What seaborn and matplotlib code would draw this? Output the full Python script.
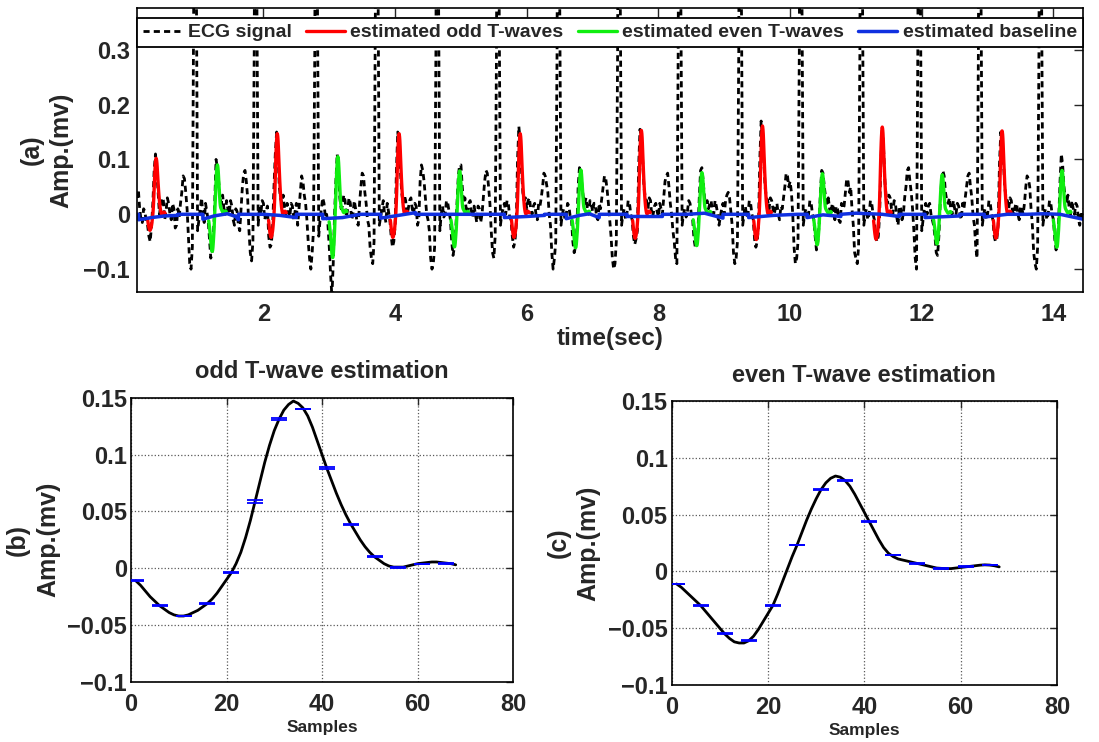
import numpy as np
import pandas as pd
import matplotlib
matplotlib.use("Agg")
import matplotlib.pyplot as plt
from matplotlib.lines import Line2D
from matplotlib.ticker import FuncFormatter
import seaborn as sns

sns.set_style("white")
plt.rcParams["font.family"] = ["Liberation Sans", "DejaVu Sans"]
plt.rcParams["font.weight"] = "bold"
plt.rcParams["axes.labelweight"] = "bold"
plt.rcParams["axes.titleweight"] = "bold"

# --- ECG recording (a), 50 Hz from 0.08 s ---
# ecg_a: samples at 0.08, 0.12, 0.16 ... ; ecg_b: samples in between (0.10, 0.14, ...)
ecg_t0 = 0.08
ecg_dt = 0.02
ecg_a = [
    0.03, 0.01, -0.015, 0.005, -0.02, -0.05, 0.02, 0.11, 0.04, 0.015,
    0.025, 0.005, 0.02, -0.01, 0.01, -0.02, -0.005, 0.04, 0.065, 0.01,
    -0.09, -0.06, 1.2, -0.03, 0.01, 0.0, 0.02, -0.01, -0.08, -0.04,
    0.1, 0.06, 0.02, 0.01, 0.025, 0.0, 0.015, -0.02, 0.005, -0.03,
    0.05, 0.08, 0.03, -0.07, -0.05, 1.2, -0.02, 0.0, 0.02, 0.005,
    -0.04, -0.055, 0.05, 0.15, 0.05, 0.02, 0.01, 0.02, -0.005, 0.015,
    0.005, -0.02, 0.04, 0.06, 0.02, -0.05, -0.1, -0.03, 1.2, -0.04,
    0.01, 0.02, 0.0, -0.06, -0.15, 0.0, 0.11, 0.03, 0.015, 0.025,
    0.01, 0.02, 0.0, 0.01, -0.02, 0.05, 0.07, 0.02, -0.02, -0.08,
    -0.05, 1.2, -0.02, 0.01, 0.0, 0.02, -0.01, -0.06, -0.02, 0.15,
    0.08, 0.02, 0.025, 0.01, 0.03, 0.0, 0.015, -0.01, 0.09, 0.06,
    0.0, -0.03, -0.1, -0.06, 1.2, -0.03, 0.015, 0.0, 0.02, -0.01,
    -0.075, -0.03, 0.07, 0.09, 0.02, 0.01, 0.02, 0.005, 0.015, -0.015,
    0.01, 0.0, 0.06, 0.075, 0.02, -0.07, -0.04, 1.2, -0.02, 0.01,
    0.0, 0.02, -0.01, -0.06, -0.02, 0.16, 0.08, 0.025, 0.01, 0.03,
    0.0, 0.02, -0.01, 0.015, 0.05, 0.07, 0.04, -0.02, -0.1, -0.05,
    1.2, -0.02, 0.01, 0.0, 0.015, -0.01, -0.07, -0.03, 0.085, 0.05,
    0.02, 0.01, 0.025, 0.005, 0.02, -0.01, 0.01, 0.05, 0.065, 0.02,
    -0.04, -0.1, -0.05, 1.2, -0.02, 0.01, 0.0, 0.02, -0.01, -0.055,
    -0.03, 0.155, 0.1, 0.03, 0.01, 0.025, 0.0, 0.02, -0.005, 0.01,
    0.03, 0.07, 0.05, 0.0, -0.05, -0.09, 1.2, -0.02, 0.01, 0.005,
    0.02, -0.01, -0.06, -0.03, 0.08, 0.06, 0.02, 0.01, 0.025, 0.0,
    0.015, -0.02, 0.01, 0.0, 0.035, 0.03, -0.02, -0.09, -0.05, 1.2,
    -0.02, 0.015, 0.0, 0.02, -0.01, -0.06, -0.02, 0.17, 0.1, 0.03,
    0.01, 0.025, 0.0, 0.02, -0.01, 0.01, 0.05, 0.07, 0.06, 0.0,
    -0.09, -0.05, 1.2, -0.02, 0.01, 0.0, 0.02, -0.01, -0.065, -0.02,
    0.08, 0.05, 0.02, 0.01, 0.02, -0.01, 0.01, -0.015, 0.01, 0.04,
    0.06, 0.05, -0.02, -0.08, -0.06, 1.2, -0.02, 0.01, 0.0, 0.02,
    -0.01, -0.05, 0.0, 0.16, 0.06, 0.02, 0.03, 0.0, 0.02, -0.02,
    0.01, 0.0, 0.05, 0.085, 0.04, -0.03, -0.1, 1.2, -0.03, 0.01,
    0.0, 0.02, -0.01, -0.04, -0.075, 0.02, 0.08, 0.04, 0.02, 0.01,
    0.025, 0.0, 0.015, -0.01, 0.01, 0.05, 0.075, 0.03, -0.02, -0.08,
    1.2, -0.02, 0.01, 0.0, 0.02, -0.01, -0.05, -0.02, 0.15, 0.1,
    0.03, 0.01, 0.025, 0.0, 0.02, -0.01, 0.01, 0.02, 0.07, 0.05,
    -0.02, -0.09, -0.06, 1.2, -0.02, 0.01, 0.0, 0.02, -0.01, -0.065,
    -0.01, 0.11, 0.05, 0.02, 0.01, 0.025, 0.0, 0.015, -0.02, -0.01,
]
ecg_b = [
    0.045, -0.01, 0.01, -0.015, -0.04, -0.02, 0.08, 0.08, 0.0, 0.03,
    -0.01, 0.03, 0.0, 0.02, -0.025, 0.01, 0.02, 0.07, 0.04, -0.04,
    -0.1, 0.35, 0.45, -0.01, 0.03, -0.015, 0.005, -0.045, -0.07, 0.02,
    0.085, 0.03, 0.035, 0.0, 0.01, 0.025, -0.01, 0.01, -0.02, 0.01,
    0.075, 0.06, -0.03, -0.085, 0.3, 0.4, 0.015, 0.025, -0.01, 0.015,
    -0.06, -0.02, 0.11, 0.12, 0.03, 0.035, 0.0, 0.005, 0.02, -0.01,
    0.02, 0.01, 0.07, 0.035, -0.01, -0.08, -0.07, 0.3, 0.4, -0.01,
    0.03, -0.005, -0.02, -0.11, -0.09, 0.06, 0.08, 0.01, 0.035, -0.005,
    0.03, -0.01, 0.025, -0.015, 0.02, 0.075, 0.04, -0.01, -0.06, -0.09,
    0.35, 0.45, -0.005, 0.025, -0.015, 0.005, -0.04, -0.05, 0.08, 0.13,
    0.04, 0.035, 0.0, 0.025, 0.01, 0.02, -0.02, 0.06, 0.08, 0.03,
    -0.01, -0.08, -0.09, 0.3, 0.4, 0.0, -0.005, 0.025, 0.005, -0.05,
    -0.06, 0.02, 0.09, 0.05, 0.03, 0.0, 0.025, -0.005, 0.0, 0.015,
    -0.015, 0.03, 0.08, 0.05, -0.03, -0.08, 0.3, 0.4, 0.0, 0.02,
    0.025, -0.005, -0.04, -0.05, 0.1, 0.13, 0.04, 0.03, 0.025, 0.01,
    0.015, 0.0, 0.02, 0.03, 0.075, 0.055, 0.0, -0.07, -0.08, 0.3,
    0.4, 0.0, -0.01, 0.02, -0.005, -0.05, -0.06, 0.05, 0.08, 0.03,
    0.03, 0.0, 0.02, 0.02, -0.005, 0.02, 0.03, 0.07, 0.045, -0.01,
    -0.08, -0.09, 0.3, 0.4, 0.0, -0.01, 0.025, 0.0, -0.04, -0.045,
    0.09, 0.14, 0.05, 0.025, 0.03, -0.005, 0.015, 0.005, 0.02, 0.0,
    0.06, 0.075, 0.02, -0.03, -0.08, 0.3, 0.4, 0.0, -0.005, 0.025,
    0.0, -0.045, -0.05, 0.03, 0.085, 0.03, 0.025, 0.02, 0.005, 0.025,
    0.0, -0.005, 0.02, 0.025, 0.04, 0.005, -0.07, -0.08, 0.3, 0.4,
    0.0, -0.005, 0.025, 0.0, -0.045, -0.05, 0.1, 0.14, 0.05, 0.025,
    0.03, 0.01, 0.015, 0.0, 0.015, 0.03, 0.075, 0.05, 0.04, -0.06,
    -0.08, 0.3, 0.4, 0.0, -0.01, 0.025, 0.0, -0.04, -0.05, 0.04,
    0.075, 0.03, 0.03, 0.0, 0.01, 0.015, -0.01, 0.02, 0.015, 0.065,
    0.04, 0.01, -0.07, -0.09, 0.3, 0.4, 0.0, -0.01, 0.025, 0.0,
    -0.04, -0.04, 0.1, 0.12, 0.03, 0.035, 0.01, 0.025, -0.005, 0.015,
    -0.01, 0.03, 0.08, 0.06, 0.01, -0.08, 0.3, 0.4, -0.01, 0.02,
    0.015, 0.0, -0.02, -0.07, -0.04, 0.06, 0.07, 0.025, 0.03, 0.0,
    0.01, 0.02, 0.0, 0.02, 0.03, 0.07, 0.05, -0.005, -0.06, 0.3,
    0.4, 0.0, -0.01, 0.025, 0.0, -0.04, -0.045, 0.09, 0.13, 0.05,
    0.025, 0.03, 0.005, 0.015, 0.0, 0.015, 0.0, 0.05, 0.065, 0.01,
    -0.07, -0.1, 0.3, 0.4, 0.0, -0.01, 0.025, 0.0, -0.045, -0.05,
    0.06, 0.09, 0.03, 0.035, 0.0, 0.01, 0.02, -0.01, 0.0, 0.01,
]

# estimated T-waves placed in the record: peak time (s) and peak amplitude
odd_peak_time = [0.37, 2.21, 4.06, 5.90, 7.74, 9.58, 11.40, 13.22]
odd_peak_amp = [0.102, 0.147, 0.147, 0.147, 0.153, 0.161, 0.159, 0.152]
even_peak_time = [1.30, 3.13, 4.98, 6.82, 8.66, 10.49, 12.31, 14.13]
even_peak_amp = [0.090, 0.105, 0.079, 0.081, 0.076, 0.074, 0.072, 0.080]
fs = 250  # Hz

# estimated baseline
base_t = [0.08, 0.105, 0.105, 0.30, 0.50, 0.70, 0.70, 1.08, 1.08, 1.25,
          1.45, 1.58, 1.62, 1.62, 2.00, 2.25, 2.50, 2.50, 2.90, 2.90,
          3.20, 3.47, 3.78, 3.78, 4.05, 4.31, 4.31, 5.66, 5.66, 6.00,
          6.27, 6.27, 6.60, 6.60, 6.80, 6.95, 7.10, 7.10, 7.52, 7.52,
          8.06, 8.06, 8.44, 8.70, 8.98, 8.98, 9.37, 9.37, 9.75, 10.11,
          10.26, 10.26, 10.50, 10.77, 10.77, 11.00, 11.40, 11.66, 11.66, 12.05,
          12.05, 12.58, 12.58, 12.95, 12.95, 13.30, 13.60, 13.85, 14.10, 14.45]
base_v = [0.0, 0.0, -0.010, -0.006, -0.003, -0.002, 0.0, 0.0, -0.009, -0.003,
          0.001, -0.004, -0.010, 0.0, 0.0, -0.002, -0.006, 0.0, 0.0, -0.008,
          -0.006, 0.0, 0.0, -0.007, -0.002, 0.003, 0.0, 0.0, -0.006, -0.004,
          -0.002, 0.0, 0.0, -0.008, -0.002, 0.001, -0.006, 0.0, 0.0, -0.004,
          -0.004, 0.0, 0.0, 0.002, -0.007, 0.0, 0.0, -0.006, -0.002, 0.0,
          0.0, -0.006, -0.001, -0.004, 0.0, 0.002, 0.0, -0.004, 0.0, 0.0,
          -0.006, -0.003, 0.0, 0.0, -0.005, 0.0, 0.0, 0.001, 0.0, -0.009]

# --- T-wave templates (b), (c): samples 1..68 ---
samples = list(range(1, 69))
odd_wave = [
    -0.011, -0.015, -0.020, -0.025, -0.029, -0.033, -0.036, -0.039, -0.041, -0.042,
    -0.042, -0.041, -0.039, -0.037, -0.034, -0.031, -0.027, -0.022, -0.016, -0.010,
    -0.004, 0.004, 0.014, 0.027, 0.042, 0.059, 0.076, 0.093, 0.108, 0.121,
    0.131, 0.139, 0.144, 0.147, 0.145, 0.141, 0.134, 0.124, 0.112, 0.100,
    0.088, 0.077, 0.066, 0.056, 0.047, 0.039, 0.032, 0.025, 0.019, 0.014,
    0.010, 0.007, 0.004, 0.002, 0.001, 0.001, 0.001, 0.002, 0.003, 0.004,
    0.0045, 0.005, 0.0055, 0.0055, 0.005, 0.0045, 0.004, 0.003,
]
even_wave = [
    -0.011, -0.014, -0.018, -0.022, -0.026, -0.030, -0.035, -0.040, -0.045, -0.050,
    -0.055, -0.059, -0.062, -0.063, -0.063, -0.061, -0.057, -0.051, -0.044, -0.037,
    -0.030, -0.020, -0.009, 0.002, 0.013, 0.023, 0.034, 0.045, 0.055, 0.064,
    0.072, 0.078, 0.082, 0.084, 0.083, 0.080, 0.075, 0.068, 0.060, 0.052,
    0.044, 0.036, 0.028, 0.021, 0.016, 0.013, 0.011, 0.010, 0.009, 0.008,
    0.007, 0.006, 0.005, 0.004, 0.003, 0.0027, 0.0025, 0.0025, 0.003, 0.0035,
    0.004, 0.0045, 0.005, 0.0055, 0.0058, 0.0056, 0.005, 0.004,
]

eb_x = [1, 6, 11, 16, 21, 26, 31, 36, 41, 46, 51, 56, 61, 66]
odd_eb_y = [-0.011, -0.033, -0.042, -0.031, -0.004, 0.0586, 0.131, 0.140,
            0.088, 0.0385, 0.0105, 0.0006, 0.0038, 0.0041]
odd_eb_err = [0.0004, 0.0004, 0.0004, 0.0004, 0.0006, 0.0012, 0.0008, 0.0004,
              0.0009, 0.0006, 0.0004, 0.0003, 0.0003, 0.0003]
even_eb_y = [-0.0112, -0.0301, -0.0548, -0.061, -0.0301, 0.0233, 0.0722, 0.0802,
             0.0438, 0.0145, 0.0071, 0.0027, 0.0042, 0.0056]
even_eb_err = [0.0003] * 14

red = "#ff0000"
green = "#10ee10"
blue = "#1030e0"

fmt = FuncFormatter(lambda v, p: f"{v:g}".replace("-", "\u2212"))

fig = plt.figure(figsize=(10.99, 7.42), dpi=100)
ax_a = fig.add_axes([0.1247, 0.6065, 0.8608, 0.3827])
ax_b = fig.add_axes([0.1192, 0.0809, 0.3476, 0.3832])
ax_c = fig.add_axes([0.6112, 0.0768, 0.3506, 0.3827])

# ---- panel (a) ----
ecg = np.column_stack([ecg_a, ecg_b]).ravel()
ecg_df = pd.DataFrame({"t": ecg_t0 + ecg_dt * np.arange(len(ecg)), "v": ecg})
ecg_dash = (0, (2.2, 1.5))
sns.lineplot(data=ecg_df, x="t", y="v", ax=ax_a, color="black", lw=2,
             linestyle=ecg_dash, estimator=None, sort=False)


def place_waves(times, amps, wave):
    rows = []
    peak = max(wave)
    for k, (tp, ap) in enumerate(zip(times, amps)):
        for s, w in zip(samples, wave):
            rows.append((k, tp + (s - 34) / fs, w * ap / peak))
    return pd.DataFrame(rows, columns=["beat", "t", "v"])


odd_df = place_waves(odd_peak_time, odd_peak_amp, odd_wave)
even_df = place_waves(even_peak_time, even_peak_amp, even_wave)
sns.lineplot(data=odd_df, x="t", y="v", units="beat", estimator=None,
             ax=ax_a, color=red, lw=2.4)
sns.lineplot(data=even_df, x="t", y="v", units="beat", estimator=None,
             ax=ax_a, color=green, lw=2.4)
sns.lineplot(x=base_t, y=base_v, ax=ax_a, color=blue, lw=2.5,
             estimator=None, sort=False)

ax_a.set_xlim(0.08, 14.45)
ax_a.set_ylim(-0.1416, 0.376)
ax_a.set_xticks([2, 4, 6, 8, 10, 12, 14])
ax_a.set_yticks([-0.1, 0, 0.1, 0.2, 0.3])
ax_a.yaxis.set_major_formatter(fmt)
ax_a.tick_params(direction="in", length=6.5, width=1, top=True, right=True,
                 labelsize=17)
ax_a.tick_params(axis="x", pad=8)
ax_a.tick_params(axis="y", pad=5)
ax_a.set_xlabel("time(sec)", fontsize=17.5)
ax_a.xaxis.set_label_coords(0.5, -0.125)
ax_a.xaxis.label.set_va("top")
ax_a.set_ylabel("(a)\nAmp.(mv)", fontsize=18, linespacing=1.3)
ax_a.yaxis.set_label_coords(-0.067, 0.5)

handles = [
    Line2D([], [], color="black", lw=2, linestyle=ecg_dash),
    Line2D([], [], color=red, lw=2.4),
    Line2D([], [], color=green, lw=2.4),
    Line2D([], [], color=blue, lw=2.5),
]
labels = ["ECG signal", "estimated odd T-waves", "estimated even T-waves",
          "estimated baseline"]
leg = ax_a.legend(handles, labels, loc="upper center", ncol=4, mode="expand",
                  bbox_to_anchor=(0, 0, 1, 0.965), borderaxespad=0,
                  prop={"size": 14, "weight": "bold"}, frameon=True,
                  fancybox=False, framealpha=1, edgecolor="black",
                  borderpad=0.3, handlelength=2.0, handletextpad=0.3,
                  columnspacing=0.5)
leg.get_frame().set_linewidth(1.3)

# ---- panels (b), (c) ----
panels = [
    (ax_b, odd_wave, odd_eb_y, odd_eb_err, "odd T-wave estimation", "(b)\nAmp.(mv)"),
    (ax_c, even_wave, even_eb_y, even_eb_err, "even T-wave estimation", "(c)\nAmp.(mv)"),
]
for ax, wave, eby, ebe, title, ylab in panels:
    sns.lineplot(x=samples, y=wave, ax=ax, color="black", lw=2)
    ax.errorbar(eb_x, eby, yerr=ebe, fmt="none", ecolor="#0000ff",
                elinewidth=1, capsize=5.5, capthick=1.3, zorder=3)
    ax.set_xlim(0, 80)
    ax.set_ylim(-0.1, 0.15)
    ax.set_xticks([0, 20, 40, 60, 80])
    ax.set_yticks([-0.1, -0.05, 0, 0.05, 0.1, 0.15])
    ax.yaxis.set_major_formatter(fmt)
    ax.grid(True, linestyle=":", color="0.35", lw=0.9)
    ax.tick_params(direction="in", length=5, width=1, top=True, right=True,
                   labelsize=17)
    ax.tick_params(axis="x", pad=8)
    ax.tick_params(axis="y", pad=3)
    ax.set_title(title, fontsize=17, pad=14)
    ax.set_xlabel("Samples", fontsize=12.5)
    ax.xaxis.set_label_coords(0.5, -0.134)
    ax.xaxis.label.set_va("top")
    ax.set_ylabel(ylab, fontsize=18, linespacing=1.3)
    ax.yaxis.set_label_coords(-0.186, 0.5)

for ax in (ax_a, ax_b, ax_c):
    for sp in ax.spines.values():
        sp.set_visible(True)
        sp.set_color("black")
        sp.set_linewidth(1.2)

fig.savefig("out.png", dpi=100)
